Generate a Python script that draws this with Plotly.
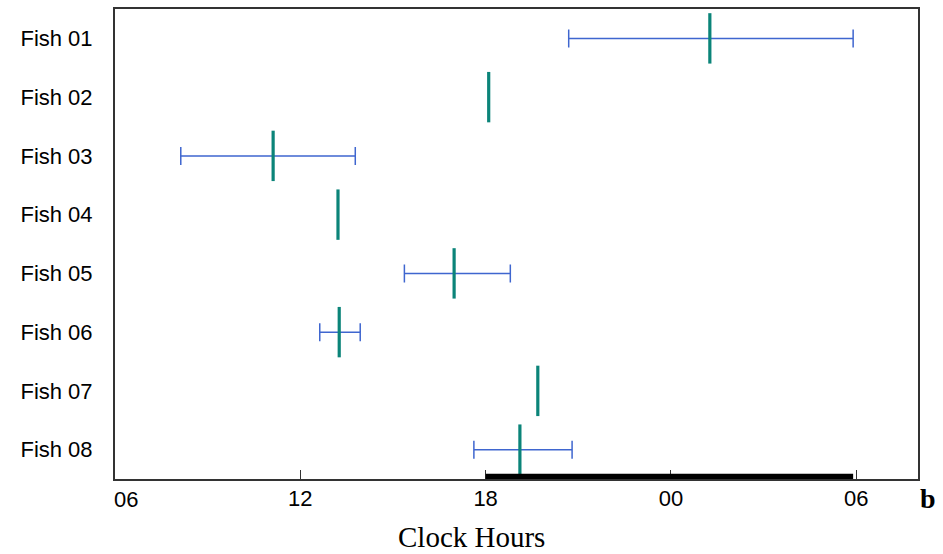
import plotly.graph_objects as go

fish = ["Fish 01", "Fish 02", "Fish 03", "Fish 04", "Fish 05", "Fish 06", "Fish 07", "Fish 08"]
# mean time of activity (clock hours, continuous from 06 of day 1)
mean_hour = [25.26, 18.10, 11.12, 13.22, 16.98, 13.26, 19.69, 19.11]
err_plus = [4.64, None, 2.66, None, 1.82, 0.68, None, 1.69]
err_minus = [4.57, None, 2.99, None, 1.61, 0.63, None, 1.49]

tick_vals = [6, 12, 18, 24, 30]
tick_labels = ["06", "12", "18", "00", "06"]
night_start, night_end = 18, 29.9

fig = go.Figure()
fig.add_trace(go.Scatter(
    x=mean_hour, y=fish, mode="markers",
    marker=dict(symbol="line-ns", size=36, line=dict(width=3.2, color="#0b8479"), color="#0b8479"),
    error_x=dict(type="data", symmetric=False, array=err_plus, arrayminus=err_minus,
                 color="#3f66cf", thickness=1.5, width=9),
    showlegend=False, hoverinfo="x+y",
))

# night bar
fig.add_shape(type="rect", xref="x", yref="paper", x0=night_start, x1=night_end,
              y0=0, y1=0.011, fillcolor="black", line=dict(width=0), layer="above")

fig.update_layout(
    width=943, height=554,
    margin=dict(l=115, r=25, t=7, b=75),
    paper_bgcolor="white", plot_bgcolor="white",
    font=dict(family="Liberation Sans, Arial, sans-serif", size=20, color="black"),
    xaxis=dict(range=[6, 32], tickvals=tick_vals, ticktext=[""] + tick_labels[1:],
               ticks="inside", ticklen=9, tickcolor="#333", tickwidth=1,
               tickfont=dict(size=22),
               showline=True, linecolor="#333", linewidth=1.5, mirror=True,
               showgrid=False, zeroline=False, ticklabelstandoff=-1),
    yaxis=dict(type="category", categoryorder="array", categoryarray=fish,
               range=[7.5, -0.5], ticks="", showline=True, linecolor="#333",
               linewidth=2, mirror=True, showgrid=False, zeroline=False,
               tickfont=dict(size=22), ticklabelstandoff=16),
)

fig.add_annotation(x=tick_vals[0], y=0, xref="x", yref="paper", text=tick_labels[0],
                   showarrow=False, xanchor="left", yanchor="top", xshift=-3, yshift=-6,
                   font=dict(family="Liberation Sans, Arial, sans-serif", size=22))
fig.add_annotation(x=0.444, y=0, xref="paper", yref="paper", text="Clock Hours",
                   showarrow=False, xanchor="center", yanchor="middle", yshift=-58,
                   font=dict(family="Liberation Serif, Times New Roman, serif", size=29))
fig.add_annotation(x=1, y=0, xref="paper", yref="paper", text="<b>b</b>",
                   showarrow=False, xanchor="left", yanchor="middle", xshift=0, yshift=-19,
                   font=dict(family="Liberation Serif, Times New Roman, serif", size=28))

fig.write_html("out.html", config={"displayModeBar": False},
               post_script="document.body.style.margin='0';document.body.style.padding='0';"
                           "document.body.style.overflow='hidden';")
